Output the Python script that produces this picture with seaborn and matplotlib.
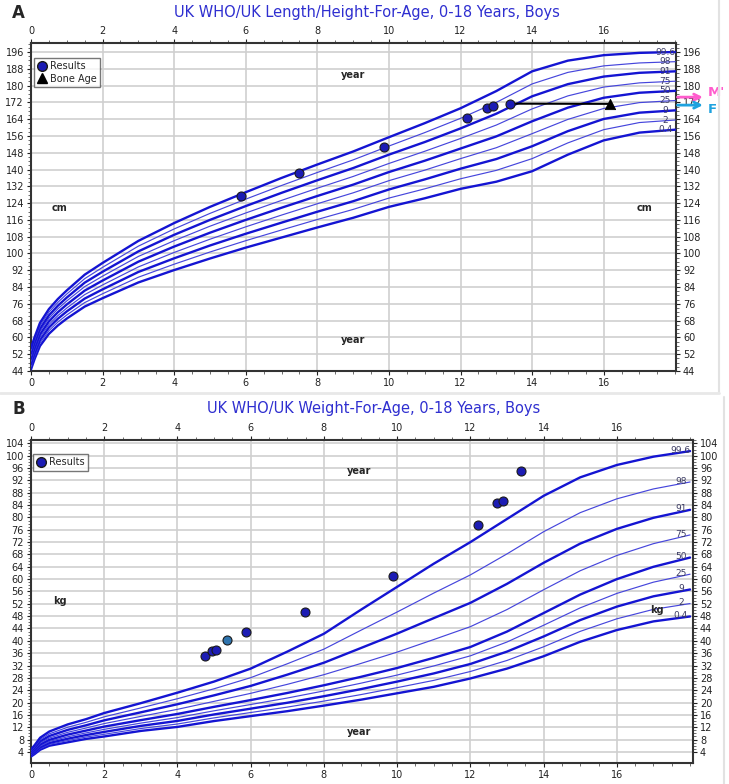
import numpy as np
import pandas as pd
import matplotlib
matplotlib.use("Agg")
import matplotlib.pyplot as plt
from matplotlib.lines import Line2D
import seaborn as sns

# ---------------- data: length/height-for-age (cm) ----------------
centile_names = ["0.4", "2", "9", "25", "50", "75", "91", "98", "99.6"]
thick_flags = [True, False, True, False, True, False, True, False, True]

h_ages = [0, 0.1, 0.25, 0.5, 0.75, 1, 1.5, 2, 3, 4, 5, 6, 7, 8, 9, 10, 11, 12, 13, 14, 15, 16, 17, 18]
h_p04 = [44.8, 49.7, 55.9, 61.7, 65.7, 69.0, 74.7, 78.7, 86.2, 92.1, 97.6, 102.8, 107.6, 112.4, 117.0, 122.2, 126.3, 130.8, 134.2, 139.2, 147.1, 153.9, 157.6, 159.0]
h_p2 = [46.1, 51.0, 57.3, 63.2, 67.3, 70.7, 76.6, 80.8, 88.7, 94.9, 100.7, 106.1, 111.2, 116.2, 121.0, 126.4, 130.8, 135.6, 139.6, 145.2, 152.7, 159.0, 162.4, 163.6]
h_p9 = [47.4, 52.3, 58.7, 64.7, 68.9, 72.4, 78.5, 82.9, 91.2, 97.7, 103.8, 109.4, 114.7, 119.9, 124.9, 130.5, 135.3, 140.4, 145.0, 151.1, 158.3, 164.1, 167.1, 168.2]
h_p25 = [48.6, 53.6, 60.0, 66.1, 70.4, 74.0, 80.4, 85.0, 93.6, 100.5, 106.8, 112.7, 118.3, 123.7, 128.9, 134.7, 139.7, 145.2, 150.4, 157.1, 163.9, 169.1, 171.9, 172.9]
h_p50 = [49.9, 54.9, 61.4, 67.6, 72.0, 75.7, 82.3, 87.1, 96.1, 103.3, 109.9, 116.0, 121.8, 127.4, 132.8, 138.8, 144.2, 150.0, 155.8, 163.0, 169.5, 174.2, 176.6, 177.5]
h_p75 = [51.2, 56.2, 62.8, 69.1, 73.6, 77.4, 84.2, 89.2, 98.6, 106.1, 113.0, 119.3, 125.3, 131.1, 136.7, 142.9, 148.7, 154.8, 161.2, 168.9, 175.1, 179.3, 181.3, 182.1]
h_p91 = [52.4, 57.5, 64.1, 70.5, 75.1, 79.0, 86.1, 91.3, 101.0, 108.9, 116.0, 122.6, 128.9, 134.9, 140.7, 147.1, 153.1, 159.6, 166.6, 174.9, 180.7, 184.3, 186.1, 186.8]
h_p98 = [53.7, 58.8, 65.5, 72.0, 76.7, 80.7, 88.0, 93.4, 103.5, 111.7, 119.1, 125.9, 132.4, 138.6, 144.6, 151.2, 157.6, 164.4, 172.0, 180.8, 186.3, 189.4, 190.8, 191.4]
h_p996 = [55.0, 60.1, 66.9, 73.5, 78.3, 82.4, 89.9, 95.5, 106.0, 114.5, 122.2, 129.2, 136.0, 142.4, 148.6, 155.4, 162.1, 169.2, 177.4, 186.8, 191.9, 194.5, 195.6, 196.0]

h_res_age = [5.88, 7.48, 9.87, 12.18, 12.73, 12.90, 13.38]
h_res_val = [127.3, 138.5, 150.9, 164.4, 169.3, 170.2, 171.4]
bone_age = [16.17]
bone_val = [171.3]
mid_parental = {"M'": 174.5, "F": 170.7}
mid_parental_label_y = {"M'": 176.6, "F": 168.5}

# ---------------- data: weight-for-age (kg) ----------------
w_ages = [0, 0.1, 0.25, 0.5, 1, 1.5, 2, 3, 4, 5, 6, 7, 8, 9, 10, 11, 12, 13, 14, 15, 16, 17, 18]
w_p04 = [2.5, 3.3, 4.7, 6.0, 7.1, 8.2, 9.0, 10.8, 12.1, 14.0, 15.6, 17.2, 19.0, 20.9, 23.0, 25.1, 27.8, 31.0, 35.0, 39.7, 43.5, 46.3, 47.9]
w_p2 = [2.72, 3.59, 5.08, 6.43, 7.66, 8.81, 9.71, 11.58, 13.04, 15.03, 16.76, 18.52, 20.47, 22.55, 24.82, 27.18, 30.06, 33.64, 38.07, 43.07, 47.14, 50.20, 52.08]
w_p9 = [2.96, 3.90, 5.48, 6.88, 8.26, 9.45, 10.48, 12.43, 14.04, 16.14, 18.01, 19.93, 22.05, 24.32, 26.79, 29.43, 32.50, 36.51, 41.41, 46.73, 51.09, 54.43, 56.64]
w_p25 = [3.22, 4.23, 5.92, 7.37, 8.90, 10.15, 11.31, 13.33, 15.13, 17.32, 19.36, 21.46, 23.76, 26.24, 28.91, 31.86, 35.14, 39.62, 45.05, 50.69, 55.37, 59.02, 61.60]
w_p50 = [3.5, 4.6, 6.4, 7.9, 9.6, 10.9, 12.2, 14.3, 16.3, 18.6, 20.8, 23.1, 25.6, 28.3, 31.2, 34.5, 38.0, 43.0, 49.0, 55.0, 60.0, 64.0, 67.0]
w_p75 = [3.79, 4.96, 6.89, 8.50, 10.34, 11.73, 13.18, 15.51, 17.80, 20.38, 22.98, 25.90, 29.03, 32.63, 36.35, 40.42, 44.59, 50.14, 56.56, 62.72, 67.66, 71.50, 74.33]
w_p91 = [4.10, 5.34, 7.42, 9.15, 11.13, 12.61, 14.23, 16.83, 19.45, 22.33, 25.39, 29.04, 32.91, 37.62, 42.35, 47.36, 52.31, 58.47, 65.29, 71.52, 76.29, 79.88, 82.46]
w_p98 = [4.44, 5.75, 7.99, 9.85, 11.98, 13.57, 15.37, 18.26, 21.24, 24.46, 28.06, 32.56, 37.31, 43.37, 49.35, 55.48, 61.37, 68.18, 75.37, 81.55, 86.03, 89.24, 91.49]
w_p996 = [4.8, 6.2, 8.6, 10.6, 12.9, 14.6, 16.6, 19.8, 23.2, 26.8, 31.0, 36.5, 42.3, 50.0, 57.5, 65.0, 72.0, 79.5, 87.0, 93.0, 97.0, 99.7, 101.5]

w_res_age = [4.75, 4.95, 5.05, 5.86, 7.49, 9.88, 12.20, 12.72, 12.90, 13.39]
w_res_val = [35.2, 36.7, 37.0, 43.0, 49.4, 61.1, 77.7, 84.7, 85.3, 95.0]
w_res2_age = [5.35]
w_res2_val = [40.2]

x_ticks = [0, 2, 4, 6, 8, 10, 12, 14, 16]
h_ticks = list(range(44, 197, 8))
w_ticks = list(range(4, 105, 4))

# ---------------- styling ----------------
sns.set_style("white")
plt.rcParams["font.family"] = ["DejaVu Sans"]

BLUE = "#1414d2"
THIN_BLUE = "#4646dc"
GRID = "#cfcfcf"
DOT = "#1c1cb4"

fig = plt.figure(figsize=(7.29, 7.84), dpi=100)
fig.patch.set_facecolor("white")

axA = fig.add_axes([31 / 729, 1 - 371 / 784, 645 / 729, 328 / 784])
axB = fig.add_axes([31 / 729, 1 - 763 / 784, 662 / 729, 323 / 784])


def long_frame(ages, series):
    rows = []
    for name, vals in zip(centile_names, series):
        for a, v in zip(ages, vals):
            rows.append((a, v, name))
    return pd.DataFrame(rows, columns=["age", "value", "centile"])


def draw_curves(ax, df):
    for name, thick in zip(centile_names, thick_flags):
        sub = df[df["centile"] == name]
        sns.lineplot(data=sub, x="age", y="value", ax=ax, estimator=None,
                     color=BLUE if thick else THIN_BLUE,
                     linewidth=1.7 if thick else 0.85, zorder=3, legend=False)


def style_axis(ax, xlim, ylim, yticks, yminor):
    ax.set_xlim(*xlim)
    ax.set_ylim(*ylim)
    ax.set_xticks(x_ticks)
    ax.set_xticks(np.arange(0, xlim[1], 0.5), minor=True)
    ax.set_yticks(yticks)
    ax.set_yticks(np.arange(yticks[0], ylim[1], yminor), minor=True)
    ax.tick_params(axis="x", which="both", top=True, bottom=True,
                   labeltop=True, labelbottom=True, direction="out")
    ax.tick_params(axis="y", which="both", left=True, right=True,
                   labelleft=True, labelright=True, direction="out")
    ax.tick_params(which="major", length=3, width=0.8, labelsize=7, pad=2,
                   colors="#222222")
    ax.tick_params(which="minor", length=2, width=0.6, colors="#555555")
    ax.grid(True, which="major", color=GRID, linewidth=1.2, zorder=0)
    ax.set_axisbelow(True)
    for s in ax.spines.values():
        s.set_color("#333333")
        s.set_linewidth(1.5)
    ax.set_xlabel("")
    ax.set_ylabel("")
    ax.set_facecolor("white")


# ---------------- Panel A ----------------
dfA = long_frame(h_ages, [h_p04, h_p2, h_p9, h_p25, h_p50, h_p75, h_p91, h_p98, h_p996])
draw_curves(axA, dfA)
style_axis(axA, (0, 18.02), (44, 200.3), h_ticks, 2)

axA.plot([h_res_age[-1], bone_age[0]], [h_res_val[-1], bone_val[0]],
         color="black", lw=1.5, zorder=4)
sns.scatterplot(x=h_res_age, y=h_res_val, ax=axA, s=42, color=DOT,
                edgecolor="#1a1a1a", linewidth=0.8, zorder=5, legend=False)
sns.scatterplot(x=bone_age, y=bone_val, ax=axA, s=55, marker="^",
                color="black", edgecolor="black", zorder=5, legend=False)

for name, vals in zip(centile_names, [h_p04, h_p2, h_p9, h_p25, h_p50, h_p75, h_p91, h_p98, h_p996]):
    axA.text(17.72, vals[-1], name, fontsize=6.5, color="#3c3c64",
             ha="center", va="center", zorder=6)

axA.text(8.99, 185, "year", fontsize=7, fontweight="bold", ha="center", va="center")
axA.text(8.99, 58.7, "year", fontsize=7, fontweight="bold", ha="center", va="center")
axA.text(0.8, 121.6, "cm", fontsize=7, fontweight="bold", ha="center", va="center")
axA.text(17.15, 121.6, "cm", fontsize=7, fontweight="bold", ha="center", va="center")

handlesA = [Line2D([], [], marker="o", ls="", markerfacecolor=DOT,
                   markeredgecolor="#1a1a1a", markersize=7),
            Line2D([], [], marker="^", ls="", color="black", markersize=7)]
legA = axA.legend(handlesA, ["Results", "Bone Age"], loc="upper left",
                  bbox_to_anchor=(0.004, 0.955), fontsize=7, frameon=True,
                  fancybox=False, edgecolor="#555555", borderpad=0.35,
                  handletextpad=0.3, labelspacing=0.25, handlelength=1.0,
                  borderaxespad=0)
legA.get_frame().set_linewidth(1.0)

tr = axA.get_yaxis_transform()
arrow_colors = {"M'": "#ff5ccd", "F": "#1ea2df"}
for lab, yv in mid_parental.items():
    axA.annotate("", xy=(1.046, yv), xytext=(0.998, yv), xycoords=tr,
                 textcoords=tr, annotation_clip=False,
                 arrowprops=dict(arrowstyle="->", color=arrow_colors[lab],
                                 lw=2.0, mutation_scale=11))
    axA.text(1.049, mid_parental_label_y[lab], lab, transform=tr,
             color=arrow_colors[lab], fontsize=9.5, fontweight="bold",
             ha="left", va="center", clip_on=False)

# ---------------- Panel B ----------------
dfB = long_frame(w_ages, [w_p04, w_p2, w_p9, w_p25, w_p50, w_p75, w_p91, w_p98, w_p996])
draw_curves(axB, dfB)
style_axis(axB, (0, 18.08), (0.4, 105.1), w_ticks, 1)

sns.scatterplot(x=w_res_age, y=w_res_val, ax=axB, s=42, color=DOT,
                edgecolor="#1a1a1a", linewidth=0.8, zorder=5, legend=False)
sns.scatterplot(x=w_res2_age, y=w_res2_val, ax=axB, s=42, color="#2f74ae",
                edgecolor="#1a1a1a", linewidth=0.8, zorder=5, legend=False)

for name, vals in zip(centile_names, [w_p04, w_p2, w_p9, w_p25, w_p50, w_p75, w_p91, w_p98, w_p996]):
    axB.text(17.75, vals[-1] + 0.3, name, fontsize=6.5, color="#3c3c64",
             ha="center", va="center", zorder=6)

axB.text(8.97, 95.2, "year", fontsize=7, fontweight="bold", ha="center", va="center")
axB.text(8.97, 10.5, "year", fontsize=7, fontweight="bold", ha="center", va="center")
axB.text(0.8, 53.0, "kg", fontsize=7, fontweight="bold", ha="center", va="center")
axB.text(17.1, 50.0, "kg", fontsize=7, fontweight="bold", ha="center", va="center")

handlesB = [Line2D([], [], marker="o", ls="", markerfacecolor=DOT,
                   markeredgecolor="#1a1a1a", markersize=7)]
legB = axB.legend(handlesB, ["Results"], loc="upper left",
                  bbox_to_anchor=(0.003, 0.957), fontsize=7, frameon=True,
                  fancybox=False, edgecolor="#555555", borderpad=0.35,
                  handletextpad=0.3, handlelength=1.0, borderaxespad=0)
legB.get_frame().set_linewidth(1.0)

# ---------------- titles & panel letters ----------------
TITLE_BLUE = "#2f2fd0"
fig.text(0.503, 1 - 13 / 784, "UK WHO/UK Length/Height-For-Age, 0-18 Years, Boys",
         color=TITLE_BLUE, fontsize=10.5, ha="center", va="center")
fig.text(0.513, 1 - 408 / 784, "UK WHO/UK Weight-For-Age, 0-18 Years, Boys",
         color=TITLE_BLUE, fontsize=10.5, ha="center", va="center")
fig.text(12 / 729, 1 - 13 / 784, "A", fontsize=12, fontweight="bold", ha="left", va="center")
fig.text(12 / 729, 1 - 409 / 784, "B", fontsize=12, fontweight="bold", ha="left", va="center")

# faint panel borders
fig.add_artist(Line2D([719 / 729, 719 / 729], [1 - 392 / 784, 1], color="#e2e2e2", lw=1.5))
fig.add_artist(Line2D([0, 719 / 729], [1 - 393 / 784, 1 - 393 / 784], color="#e8e8e8", lw=2))
fig.add_artist(Line2D([724 / 729, 724 / 729], [0, 1 - 397 / 784], color="#e2e2e2", lw=1.5))

fig.savefig("out.png", dpi=100, facecolor="white")
